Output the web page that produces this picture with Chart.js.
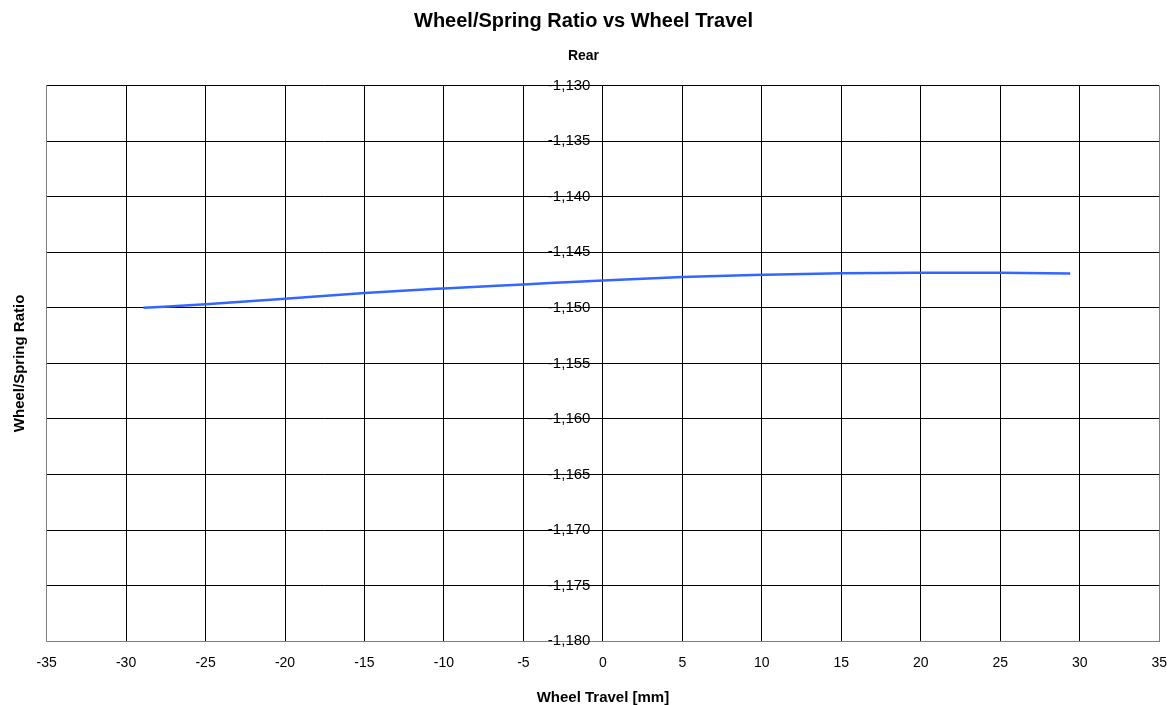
<!DOCTYPE html>
<html>
<head>
<meta charset="utf-8">
<script src="https://cdn.jsdelivr.net/npm/chart.js@4/dist/chart.umd.min.js"></script>
<style>
  html, body { margin: 0; padding: 0; background: #fff; }
  canvas { display: block; }
</style>
</head>
<body>
<canvas id="chart" width="1173" height="705"></canvas>
<script>
// Wheel travel [mm] and wheel/spring ratio
const travel = [-28.9, -25, -20, -15, -10, -5, 0, 5, 10, 15, 20, 25, 29.4];
const ratio = [-1.15000, -1.14967, -1.14919, -1.14866, -1.14825, -1.14789, -1.14753,
               -1.14723, -1.14703, -1.14688, -1.14684, -1.14685, -1.14690];

const xTicks = [-35, -30, -25, -20, -15, -10, -5, 0, 5, 10, 15, 20, 25, 30, 35];
const yMin = -1.18, yMax = -1.13, yStep = 0.005;

const FONT = 'Liberation Sans, Arial, sans-serif';
const edgeGray = '#808080';

new Chart(document.getElementById('chart'), {
    type: 'line',
    data: {
        datasets: [{
            data: travel.map((x, i) => ({ x, y: ratio[i] })),
            borderColor: '#3366ff',
            borderWidth: 2.5,
            pointRadius: 0,
            fill: false,
            tension: 0.4,
            cubicInterpolationMode: 'monotone'
        }]
    },
    options: {
        responsive: false,
        animation: false,
        layout: { padding: { left: 0, right: 6, top: 0, bottom: 0 } },
        plugins: {
            legend: { display: false },
            tooltip: { enabled: false },
            title: {
                display: true,
                text: 'Wheel/Spring Ratio vs Wheel Travel',
                color: '#000',
                font: { family: FONT, size: 20, weight: 'bold' },
                padding: { top: 9.4, bottom: 14.4 }
            },
            subtitle: {
                display: true,
                text: 'Rear',
                color: '#000',
                font: { family: FONT, size: 14, weight: 'bold' },
                padding: { top: 0, bottom: 21 }
            }
        },
        scales: {
            x: {
                type: 'linear',
                min: -35, max: 35,
                afterBuildTicks: axis => { axis.ticks = xTicks.map(v => ({ value: v })); },
                ticks: { color: '#000', font: { family: FONT, size: 14 }, padding: 6, maxRotation: 0 },
                grid: {
                    color: c => (c.tick && (c.tick.value === -35 || c.tick.value === 35)) ? edgeGray : '#000',
                    lineWidth: 1,
                    drawTicks: true,
                    tickLength: 8,
                    tickColor: 'rgba(0,0,0,0)'
                },
                border: { color: edgeGray, width: 1 },
                title: {
                    display: true,
                    text: 'Wheel Travel [mm]',
                    color: '#000',
                    font: { family: FONT, size: 15, weight: 'bold', lineHeight: 1 },
                    padding: { top: 12, bottom: 0 }
                }
            },
            // value axis sits on the x = 0 line, labels just left of it
            y: {
                type: 'linear',
                position: { x: 0 },
                min: yMin, max: yMax,
                ticks: {
                    stepSize: yStep,
                    color: '#000',
                    font: { family: FONT, size: 15 },
                    // trailing spaces keep the label clear of the x = 0 line
                    callback: v => v.toFixed(3).replace('.', ',') + '   '
                },
                grid: {
                    color: c => (c.tick && Math.abs(c.tick.value - yMin) < 1e-9) ? edgeGray : '#000',
                    lineWidth: 1,
                    drawTicks: false
                },
                border: { display: false }
            },
            // left edge axis only carries the title
            yTitle: {
                type: 'linear',
                position: 'left',
                min: 0, max: 1,
                ticks: { display: false },
                grid: { display: false, drawTicks: false },
                border: { color: edgeGray, width: 1 },
                title: {
                    display: true,
                    text: 'Wheel/Spring Ratio',
                    color: '#000',
                    font: { family: FONT, size: 15, weight: 'bold' },
                    padding: { top: 11, bottom: 17.6 }
                }
            }
        }
    }
});
</script>
</body>
</html>
